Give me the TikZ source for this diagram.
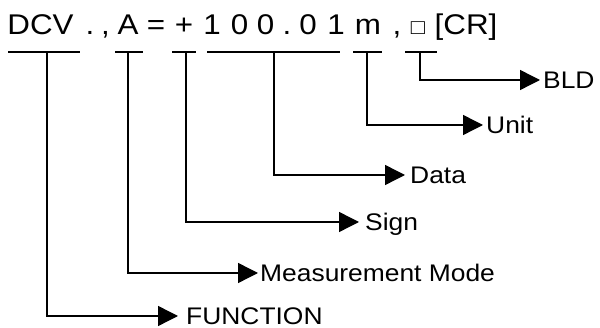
\documentclass[tikz,border=0pt]{standalone}
\usepackage{fontspec}
\usepackage{graphicx}
\setmainfont{Liberation Sans}[FakeStretch=1.1]
\usetikzlibrary{arrows.meta}
\begin{document}
\begin{tikzpicture}[x=1pt,y=-1pt,
  tok/.style={anchor=base,inner sep=0pt,font=\fontsize{28.5}{30}\selectfont},
  lbl/.style={anchor=west,inner sep=0pt,text height=17.2pt,text depth=0pt,font=\fontsize{24}{26}\selectfont},
  uline/.style={line width=1.4pt},
  conn/.style={line width=1.4pt,-{Triangle[length=20pt,width=20pt]}}]
\useasboundingbox (0,0) rectangle (600,328);
% top string
\node[tok] (tDCV) at (40.5,35) {DCV};
\node[tok] (tdot1) at (90,35) {.};
\node[tok] (tcom1) at (105.5,35) {,};
\node[tok] (tA) at (128,35) {A};
\node[tok] (teq) at (156,35) {=};
\node[tok] (tplus) at (184,35) {+};
\node[tok] (t1) at (212,35) {1};
\node[tok] (t0a) at (239.5,35) {0};
\node[tok] (t0b) at (265.5,35) {0};
\node[tok] (tdot2) at (287,35) {.};
\node[tok] (t0c) at (308,35) {0};
\node[tok] (t1b) at (336,35) {1};
\node[tok] (tm) at (368,35) {m};
\node[tok] (tcom2) at (397,35) {,};
\node[tok] (tsq) at (418,35) {\scalebox{0.75}{□}};
\node[tok] (tCR) at (466,35) {[CR]};
% underlines
\draw[uline] (8,52) -- (80,52);
\draw[uline] (115,52) -- (143,52);
\draw[uline] (172,52) -- (196,52);
\draw[uline] (207,52) -- (340,52);
\draw[uline] (353,52) -- (382,52);
\draw[uline] (405,52) -- (437,52);
\coordinate (uF) at (47,52);
\coordinate (uM) at (128,52);
\coordinate (uS) at (186,52);
\coordinate (uD) at (274,52);
\coordinate (uU) at (367,52);
\coordinate (uB) at (420,52);
% arrow tips
\coordinate (aF) at (178,316);
\coordinate (aM) at (258,273);
\coordinate (aS) at (359,222);
\coordinate (aD) at (405,175);
\coordinate (aU) at (483,125);
\coordinate (aB) at (540,80);
% labels
\node[lbl] (F) at (186,316) {FUNCTION};
\node[lbl] (M) at (260,273) {Measurement Mode};
\node[lbl] (S) at (365,222) {Sign};
\node[lbl] (D) at (410,175) {Data};
\node[lbl] (U) at (486,125) {Unit};
\node[lbl] (B) at (543,80) {BLD};
% connectors
\draw[conn] (uF) |- (aF);
\draw[conn] (uM) |- (aM);
\draw[conn] (uS) |- (aS);
\draw[conn] (uD) |- (aD);
\draw[conn] (uU) |- (aU);
\draw[conn] (uB) |- (aB);
\end{tikzpicture}
\end{document}
